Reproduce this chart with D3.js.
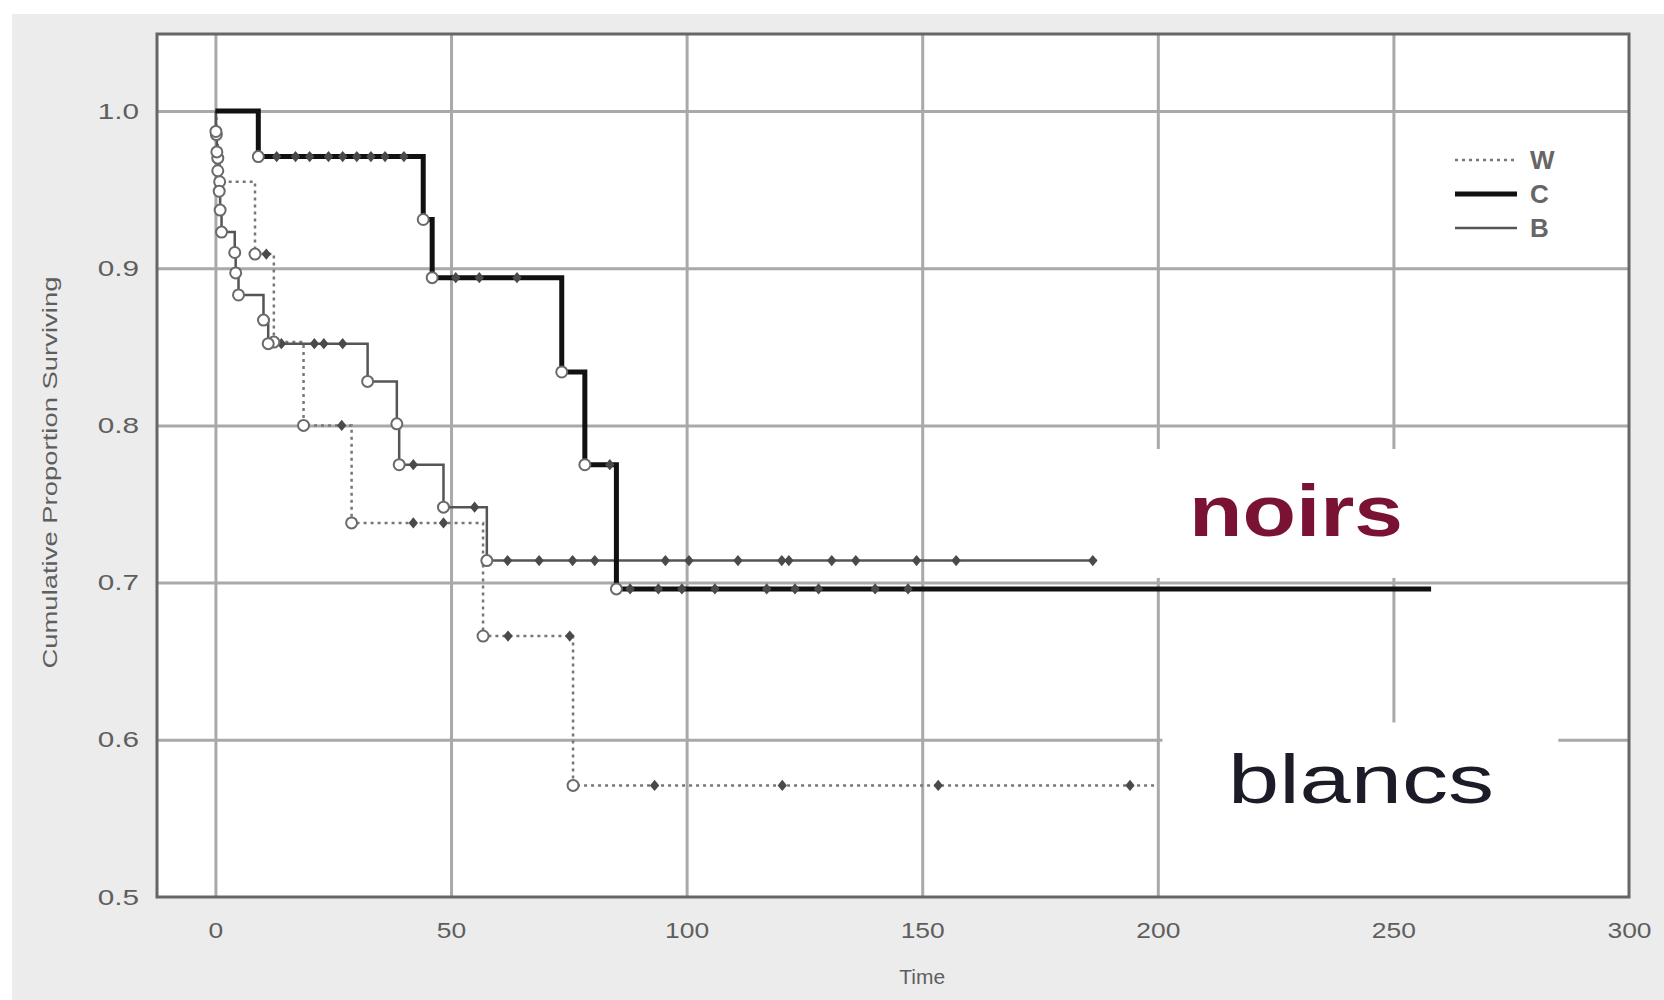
<!DOCTYPE html>
<html lang="en">
<head>
    <meta charset="utf-8">
    <title>Cumulative Proportion Surviving</title>
    <script src="https://d3js.org/d3.v7.min.js"></script>
    <style>
        body {
            margin: 0;
            background: #fff;
        }

        svg text {
            font-family: Arial, "Liberation Sans", sans-serif;
        }

        .grid line {
            stroke: #a9a9a9;
            stroke-width: 3;
        }

        .grid path,
        .ticklabels path,
        .ticklabels line {
            display: none;
        }

        .ticklabels text {
            fill: #5e5e5e;
            font-size: 22px;
        }

        .km {
            fill: none;
        }

        .event {
            fill: #fff;
            stroke: #6a6a6a;
            stroke-width: 2;
        }

        .censor {
            fill: #4a4a4a;
        }
    </style>
</head>
<body>
<div id="chart"></div>

<script>
    // series labels (legend order)
    var seriesNames = ["W", "C", "B"];

    // W : step times, survival after each step, censored times
    var wTimes = [0, 0.2, 0.5, 0.9, 8.4, 12.4, 18.7, 28.9, 56.8, 75.9];
    var wSurv = [1.0, 0.985, 0.970, 0.955, 0.909, 0.853, 0.800, 0.738, 0.666, 0.571];
    var wCensor = [10.8, 26.8, 42, 48.4, 62.1, 75.2, 93.2, 120.3, 153.4, 194.1];
    var wEnd = 200;

    // C
    var cTimes = [0, 9.1, 44.1, 46.0, 73.5, 78.4, 85.1];
    var cSurv = [1.0, 0.971, 0.931, 0.894, 0.834, 0.775, 0.696];
    var cCensor = [13, 17, 20, 24, 27, 30, 33, 36, 40, 51, 56, 64, 83.7, 88, 94, 99, 106, 117, 123, 128, 140, 147];
    var cEnd = 258;

    // B
    var bTimes = [0, 0.1, 0.3, 0.5, 0.8, 1.0, 1.3, 4.1, 4.3, 4.9, 10.2, 11.2, 32.3, 38.5, 39.0, 48.4, 57.6];
    var bSurv = [1.0, 0.987, 0.974, 0.962, 0.949, 0.937, 0.923, 0.910, 0.897, 0.883, 0.867, 0.852, 0.828, 0.801, 0.775, 0.748, 0.714];
    var bCensor = [14, 21, 23, 27, 42, 55, 62, 68.7, 75.8, 80.5, 95.5, 100.5, 110.9, 120.2, 121.7, 130.8, 135.9, 148.8, 157.2, 186.2];
    var bEnd = 187;

    // axis ticks
    var xTicks = [0, 50, 100, 150, 200, 250, 300];
    var yTicks = [0.5, 0.6, 0.7, 0.8, 0.9, 1.0];

    var w = 1664;
    var h = 1000;
    var plotLeft = 157, plotRight = 1629, plotTop = 34, plotBottom = 897;

    var svg = d3.select("#chart")
        .append("svg")
        .attr("width", w)
        .attr("height", h);

    // grey page behind the plot
    svg.append("rect")
        .attr("x", 12)
        .attr("y", 14)
        .attr("width", w - 12)
        .attr("height", h - 14)
        .attr("fill", "#ececec");

    var xScale = d3.scaleLinear()
        .domain([-12.4, 300])
        .range([plotLeft, plotRight]);

    var yScale = d3.scaleLinear()
        .domain([0.5, 1.049])
        .range([plotBottom, plotTop]);

    svg.append("rect")
        .attr("x", plotLeft)
        .attr("y", plotTop)
        .attr("width", plotRight - plotLeft)
        .attr("height", plotBottom - plotTop)
        .attr("fill", "#fff");

    // grid
    svg.append("g")
        .attr("class", "grid")
        .attr("transform", `translate(0, ${plotBottom})`)
        .call(d3.axisBottom(xScale).tickValues(xTicks.slice(0, -1)).tickSize(-(plotBottom - plotTop)).tickFormat(""));

    svg.append("g")
        .attr("class", "grid")
        .attr("transform", `translate(${plotLeft}, 0)`)
        .call(d3.axisLeft(yScale).tickValues(yTicks.slice(1)).tickSize(-(plotRight - plotLeft)).tickFormat(""));

    // white label boxes that hide the grid
    var noirsBox = { x0: 197, x1: 262, y0: 0.785, y1: 0.703 };
    var blancsBox = { x0: 201, x1: 285, y0: 0.611, y1: 0.5 };
    [noirsBox, blancsBox].forEach(b => {
        svg.append("rect")
            .attr("x", xScale(b.x0))
            .attr("y", yScale(b.y0))
            .attr("width", xScale(b.x1) - xScale(b.x0))
            .attr("height", yScale(b.y1) - yScale(b.y0))
            .attr("fill", "#fff");
    });

    // frame
    svg.append("rect")
        .attr("x", plotLeft)
        .attr("y", plotTop)
        .attr("width", plotRight - plotLeft)
        .attr("height", plotBottom - plotTop)
        .attr("fill", "none")
        .attr("stroke", "#666")
        .attr("stroke-width", 3);

    // tick labels (the source print is stretched sideways)
    var xLabels = svg.append("g")
        .attr("class", "ticklabels")
        .attr("transform", `translate(0, ${plotBottom})`)
        .call(d3.axisBottom(xScale).tickValues(xTicks).tickSize(0).tickPadding(25).tickFormat(d3.format("d")));

    var yLabels = svg.append("g")
        .attr("class", "ticklabels")
        .attr("transform", `translate(${plotLeft}, 0)`)
        .call(d3.axisLeft(yScale).tickValues(yTicks).tickSize(0).tickPadding(18).tickFormat(d3.format(".1f")));

    xLabels.selectAll("text").each(function() {
        d3.select(this)
            .attr("textLength", this.getComputedTextLength() * 1.2)
            .attr("lengthAdjust", "spacingAndGlyphs");
    });
    yLabels.selectAll("text").each(function() {
        d3.select(this)
            .attr("textLength", this.getComputedTextLength() * 1.35)
            .attr("lengthAdjust", "spacingAndGlyphs");
    });

    svg.append("text")
        .attr("x", xScale(150))
        .attr("y", 984)
        .attr("text-anchor", "middle")
        .attr("fill", "#5e5e5e")
        .style("font-size", "21px")
        .text("Time");

    svg.append("text")
        .attr("transform", `translate(57, ${yScale(0.77)}) rotate(-90)`)
        .attr("text-anchor", "middle")
        .attr("fill", "#5e5e5e")
        .attr("textLength", 392)
        .attr("lengthAdjust", "spacingAndGlyphs")
        .style("font-size", "20px")
        .text("Cumulative Proportion Surviving");

    // survival curves
    var step = d3.line()
        .x(d => xScale(d[0]))
        .y(d => yScale(d[1]))
        .curve(d3.curveStepAfter);

    var series = [
        { name: "W", times: wTimes, surv: wSurv, censor: wCensor, end: wEnd, color: "#777", width: 2.5, dash: "3,4" },
        { name: "B", times: bTimes, surv: bSurv, censor: bCensor, end: bEnd, color: "#555", width: 2.5, dash: null },
        { name: "C", times: cTimes, surv: cSurv, censor: cCensor, end: cEnd, color: "#111", width: 5, dash: null }
    ];

    function survAt(s, t) {
        var v = s.surv[0];
        s.times.forEach((tt, i) => { if (tt <= t) v = s.surv[i]; });
        return v;
    }

    series.forEach(s => {
        var pts = s.times.map((t, i) => [t, s.surv[i]]);
        pts.push([s.end, s.surv[s.surv.length - 1]]);

        svg.append("path")
            .datum(pts)
            .attr("class", "km")
            .attr("d", step)
            .attr("stroke", s.color)
            .attr("stroke-width", s.width)
            .attr("stroke-dasharray", s.dash);

        svg.selectAll(`path.censor.${s.name}`)
            .data(s.censor)
            .enter()
            .append("path")
            .attr("class", `censor ${s.name}`)
            .attr("d", d3.symbol().type(d3.symbolDiamond).size(45))
            .attr("transform", d => `translate(${xScale(d)}, ${yScale(survAt(s, d))}) scale(1.3, 0.9)`);
    });

    series.forEach(s => {
        svg.selectAll(`circle.event.${s.name}`)
            .data(s.times.slice(1).map((t, i) => [t, s.surv[i + 1]]))
            .enter()
            .append("circle")
            .attr("class", `event ${s.name}`)
            .attr("cx", d => xScale(d[0]))
            .attr("cy", d => yScale(d[1]))
            .attr("r", 5.5);
    });

    // legend
    var legend = svg.append("g")
        .attr("transform", "translate(1455, 160)");

    seriesNames.forEach((name, i) => {
        var s = series.find(d => d.name === name);
        var row = legend.append("g")
            .attr("transform", `translate(0, ${i * 34})`);

        row.append("line")
            .attr("x1", 0)
            .attr("x2", 62)
            .attr("stroke", s.color)
            .attr("stroke-width", s.width)
            .attr("stroke-dasharray", s.dash);

        row.append("text")
            .attr("x", 75)
            .attr("y", 9)
            .attr("fill", "#666")
            .style("font-size", "26px")
            .style("font-weight", "bold")
            .text(name);
    });

    // annotations
    svg.append("text")
        .attr("x", 1189)
        .attr("y", 536)
        .attr("fill", "#7a1234")
        .attr("textLength", 214)
        .attr("lengthAdjust", "spacingAndGlyphs")
        .style("font-size", "72px")
        .style("font-weight", "bold")
        .text("noirs");

    svg.append("text")
        .attr("x", 1228)
        .attr("y", 803)
        .attr("fill", "#1c1c28")
        .attr("textLength", 266)
        .attr("lengthAdjust", "spacingAndGlyphs")
        .style("font-size", "68px")
        .text("blancs");
</script>
</body>
</html>
